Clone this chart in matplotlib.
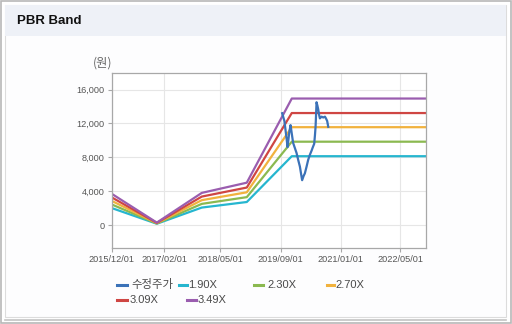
import matplotlib
matplotlib.use("Agg")
import matplotlib.pyplot as plt
import matplotlib.dates as mdates
from matplotlib.patches import Rectangle
from matplotlib.lines import Line2D
from matplotlib.ticker import FuncFormatter
import numpy as np

# ---- data -------------------------------------------------------------
band_dates = ["2015-12-01", "2016-12-01", "2017-12-01", "2018-12-01",
              "2019-12-01", "2022-12-01"]
band_190 = [2014, 162, 2071, 2727, 8132, 8132]
band_230 = [2438, 196, 2507, 3301, 9844, 9844]
band_270 = [2862, 230, 2943, 3875, 11556, 11556]
band_309 = [3275, 263, 3368, 4434, 13225, 13225]
band_349 = [3699, 297, 3804, 5008, 14937, 14937]

price_dates = ["2019-09-14", "2019-10-02", "2019-10-20", "2019-10-28", "2019-11-10",
               "2019-11-21", "2019-11-29", "2019-12-12", "2019-12-26", "2020-01-09",
               "2020-01-22", "2020-02-05", "2020-02-15", "2020-02-23", "2020-03-06",
               "2020-03-16", "2020-03-30", "2020-04-12", "2020-04-26", "2020-05-10",
               "2020-05-20", "2020-05-31", "2020-06-06", "2020-06-11", "2020-06-15",
               "2020-06-19", "2020-06-26", "2020-07-02", "2020-07-10", "2020-07-16",
               "2020-07-30", "2020-08-12", "2020-08-26", "2020-09-03", "2020-09-13",
               "2020-09-22"]
price = [13200, 12300, 10200, 9200, 10900, 11800, 11000, 9700, 9100, 8500,
         7700, 6900, 6000, 5300, 5800, 6100, 6900, 7700, 8300, 8800,
         9200, 9600, 10600, 11600, 13000, 14500, 14100, 13700, 13000, 12600,
         12800, 12700, 12800, 12600, 12300, 11600]

x_ticks = ["2015/12/01", "2017/02/01", "2018/05/01", "2019/09/01",
           "2021/01/01", "2022/05/01"]
y_ticks = [0, 4000, 8000, 12000, 16000]

series_names = ["수정주가", "1.90X", "2.30X", "2.70X", "3.09X", "3.49X"]
colors = ["#3b72b8", "#26b6cf", "#8bb950", "#f1b23e", "#cf4643", "#9a5daf"]

# ---- figure -----------------------------------------------------------
W, H = 512, 324
fig = plt.figure(figsize=(W / 100, H / 100), dpi=100)
fig.patch.set_facecolor("white")

def px_rect(x0, y0, x1, y1, **kw):
    fig.patches.append(Rectangle((x0 / W, 1 - y1 / H), (x1 - x0) / W, (y1 - y0) / H,
                                 transform=fig.transFigure, zorder=-5, **kw))

# outer frame and inner panel
px_rect(0.5, 0.5, W - 1.5, H - 1.5, fill=False, edgecolor="#b8b8b8", linewidth=1.2)
px_rect(5, 5, 506, 317, facecolor="#fdfdfe", edgecolor="#dcdcdc", linewidth=0.8)
px_rect(5, 5, 506, 36, facecolor="#eef1f7", edgecolor="none")
fig.add_artist(Line2D([5 / W, 506 / W], [1 - 319.5 / H] * 2, color="#c4c4c4",
                      linewidth=1.2, transform=fig.transFigure))

fig.text(17 / W, 1 - 21.5 / H, "PBR Band", fontsize=9.5, fontweight="bold",
         family="Liberation Sans", color="#111111", va="center", ha="left")

# ---- axes ---------------------------------------------------------------
ax = fig.add_axes([111.7 / W, 1 - 248 / H, (426 - 111.7) / W, (248 - 73) / H])
ax.set_facecolor("white")

bd = np.array(band_dates, dtype="datetime64[D]")
pd_ = np.array(price_dates, dtype="datetime64[D]")
bands = [band_190, band_230, band_270, band_309, band_349]

for vals, c in zip(bands, colors[1:]):
    ax.plot(bd, vals, color=c, linewidth=1.6, solid_joinstyle="round", zorder=2)
ax.plot(pd_, price, color=colors[0], linewidth=1.6, solid_joinstyle="round", zorder=3)

ax.set_xlim(np.datetime64("2015-12-01"), np.datetime64("2022-11-24"))
ax.set_ylim(-2700, 17950)

xt = [np.datetime64(t.replace("/", "-")) for t in x_ticks]
ax.set_xticks(mdates.date2num(xt))
ax.set_xticklabels(x_ticks)
ax.set_yticks(y_ticks)
ax.yaxis.set_major_formatter(FuncFormatter(lambda v, p: f"{int(v):,}"))

ax.grid(True, color="#e6e6e6", linewidth=0.8)
ax.set_axisbelow(True)
for s in ax.spines.values():
    s.set_color("#a8a8a8")
    s.set_linewidth(0.9)
ax.tick_params(axis="both", colors="#a8a8a8", labelcolor="#555555", length=3,
               width=0.8, labelsize=6.6, pad=2)
for lbl in ax.get_xticklabels() + ax.get_yticklabels():
    lbl.set_family("Liberation Sans")

fig.text(93 / W, 1 - 63 / H, "(원)", fontsize=8.8, color="#666666",
         family=["Noto Sans CJK KR", "DejaVu Sans"], va="center", ha="left")

# ---- legend -------------------------------------------------------------
legend_items = [
    (117, 127, 131, 284.5), (179, 187, 188, 284.5), (254, 263, 267, 284.5),
    (327, 334, 335, 284.5), (117, 127, 130, 300), (187, 196, 198, 300),
]
for name, c, (d0, d1, tx, ty) in zip(series_names, colors, legend_items):
    fig.add_artist(Line2D([d0 / W, d1 / W], [1 - ty / H] * 2, color=c,
                          linewidth=2.2, transform=fig.transFigure))
    fig.text(tx / W, 1 - ty / H, name, fontsize=8.2 if name == "수정주가" else 8,
             color="#4a4a4a",
             family=["Liberation Sans", "Noto Sans CJK KR"], va="center", ha="left")

fig.savefig("out.png", dpi=100, facecolor=fig.get_facecolor())
